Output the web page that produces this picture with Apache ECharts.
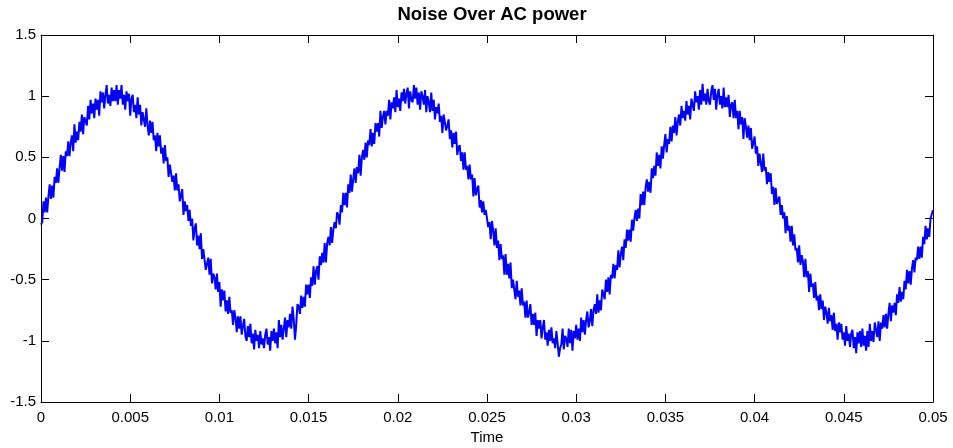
<!DOCTYPE html>
<html>
<head>
<meta charset="utf-8">
<script src="https://cdn.jsdelivr.net/npm/echarts@6/dist/echarts.min.js"></script>
<style>
html,body{margin:0;padding:0;background:#fff;}
#chart{width:953px;height:448px;}
</style>
</head>
<body>
<div id="chart"></div>
<script>
const tStart = 0;
const tEnd = 0.05;
const signal = [
-0.05,-0.03,0.14,0.05,0.17,0.05,0.18,0.28,0.16,0.27,0.17,0.34,0.29,0.41,0.29,0.41,0.52,0.39,0.51,0.38,0.55,0.51,0.63,0.51,0.62,0.68,0.55,0.77,0.62,0.71,
0.64,0.79,0.71,0.85,0.69,0.83,0.82,0.76,0.92,0.81,0.97,0.86,0.94,0.82,0.98,0.89,0.97,0.84,1.04,0.95,1.03,0.90,1.01,1.09,0.94,1.01,0.92,1.07,0.96,1.05,
0.96,1.09,0.93,1.05,0.98,1.09,0.93,1.01,0.89,1.04,0.96,1.02,0.84,0.98,1.01,0.87,0.93,0.82,0.99,0.85,0.93,0.76,0.87,0.87,0.75,0.90,0.76,0.68,0.80,0.70,
0.79,0.64,0.68,0.55,0.70,0.59,0.68,0.53,0.58,0.45,0.60,0.47,0.50,0.34,0.44,0.45,0.30,0.35,0.23,0.37,0.23,0.28,0.14,0.19,0.24,0.03,0.14,0.06,0.11,-0.02,
0.07,-0.06,0.00,-0.18,-0.08,-0.04,-0.22,-0.14,-0.25,-0.12,-0.33,-0.25,-0.24,-0.42,-0.37,-0.32,-0.46,-0.33,-0.53,-0.45,-0.48,-0.58,-0.45,-0.60,-0.52,-0.72,-0.58,-0.67,-0.59,-0.76,
-0.67,-0.78,-0.64,-0.77,-0.75,-0.87,-0.75,-0.81,-0.93,-0.80,-0.90,-0.80,-0.95,-0.88,-0.82,-0.96,-1.00,-0.88,-0.97,-0.86,-1.02,-0.94,-1.07,-0.91,-1.00,-0.95,-1.06,-0.92,-1.03,-0.98,
-1.06,-0.95,-0.90,-1.03,-0.97,-1.08,-0.92,-1.00,-0.90,-1.02,-0.93,-1.06,-0.83,-0.97,-0.87,-0.99,-0.90,-0.81,-0.97,-0.83,-0.89,-0.78,-0.90,-0.72,-0.82,-0.99,-0.87,-0.70,-0.72,-0.78,
-0.63,-0.73,-0.64,-0.72,-0.54,-0.62,-0.54,-0.65,-0.48,-0.55,-0.39,-0.54,-0.43,-0.39,-0.50,-0.31,-0.38,-0.28,-0.36,-0.20,-0.36,-0.20,-0.15,-0.22,-0.07,-0.20,-0.09,-0.03,-0.08,0.05,
0.03,-0.05,0.11,0.05,0.21,0.11,0.21,0.09,0.28,0.21,0.36,0.22,0.32,0.41,0.29,0.42,0.37,0.52,0.35,0.50,0.56,0.48,0.62,0.50,0.64,0.60,0.73,0.59,0.70,0.61,
0.78,0.71,0.78,0.67,0.88,0.74,0.83,0.88,0.77,0.88,0.84,0.97,0.81,0.95,0.90,0.99,0.87,1.05,0.91,0.98,0.88,1.03,0.96,1.06,0.94,1.02,1.07,0.90,1.04,0.97,
0.95,1.09,0.98,1.07,0.93,1.03,0.89,1.04,1.00,0.93,1.05,0.87,1.00,0.95,0.87,1.03,0.88,0.97,0.81,0.91,0.86,0.94,0.79,0.84,0.70,0.85,0.85,0.72,0.76,0.81,
0.65,0.72,0.58,0.70,0.61,0.71,0.52,0.58,0.60,0.47,0.54,0.40,0.54,0.40,0.43,0.32,0.44,0.32,0.36,0.18,0.33,0.19,0.24,0.27,0.09,0.15,0.05,0.14,0.03,0.07,
0.06,-0.07,-0.03,-0.17,-0.02,-0.10,-0.22,-0.08,-0.24,-0.18,-0.34,-0.21,-0.33,-0.30,-0.46,-0.29,-0.46,-0.37,-0.49,-0.36,-0.57,-0.50,-0.49,-0.66,-0.51,-0.64,-0.59,-0.71,-0.57,-0.71,
-0.68,-0.81,-0.67,-0.81,-0.77,-0.70,-0.87,-0.78,-0.87,-0.77,-0.96,-0.83,-0.90,-0.83,-0.98,-0.89,-0.83,-0.99,-0.93,-1.04,-0.91,-1.00,-0.89,-1.02,-0.98,-1.06,-0.92,-1.02,-1.13,-1.06,
-1.03,-0.90,-1.07,-0.96,-0.98,-1.05,-0.90,-1.02,-0.91,-1.08,-0.92,-0.98,-0.87,-0.99,-0.90,-1.00,-0.81,-0.93,-0.83,-0.95,-0.83,-0.76,-0.89,-0.84,-0.74,-0.88,-0.75,-0.70,-0.78,-0.62,
-0.77,-0.67,-0.75,-0.58,-0.62,-0.66,-0.50,-0.60,-0.48,-0.62,-0.46,-0.49,-0.37,-0.49,-0.38,-0.42,-0.26,-0.40,-0.29,-0.23,-0.34,-0.17,-0.24,-0.09,-0.18,-0.09,-0.19,-0.01,-0.10,0.00,
0.07,-0.02,0.08,0.00,0.20,0.11,0.22,0.11,0.25,0.32,0.22,0.30,0.21,0.41,0.33,0.43,0.35,0.54,0.43,0.52,0.41,0.59,0.49,0.60,0.69,0.54,0.65,0.61,0.75,0.63,
0.76,0.70,0.83,0.68,0.79,0.85,0.76,0.92,0.82,0.88,0.80,0.96,0.85,0.92,0.81,0.98,0.97,0.88,1.04,0.95,1.00,0.89,1.05,0.93,1.10,0.96,1.02,0.93,1.06,0.96,
0.93,1.04,1.09,0.97,1.06,0.89,1.01,1.06,0.93,1.00,0.90,1.07,0.91,0.99,0.91,1.01,0.83,0.93,0.95,0.82,0.97,0.82,0.88,0.73,0.88,0.77,0.83,0.65,0.82,0.75,
0.66,0.76,0.64,0.74,0.57,0.62,0.67,0.53,0.59,0.43,0.53,0.54,0.38,0.53,0.39,0.42,0.28,0.38,0.30,0.37,0.20,0.26,0.11,0.25,0.12,0.15,0.18,0.03,0.11,0.00,
0.05,-0.12,0.02,-0.10,-0.06,-0.19,-0.06,-0.22,-0.13,-0.26,-0.24,-0.36,-0.22,-0.38,-0.30,-0.35,-0.48,-0.33,-0.48,-0.43,-0.60,-0.45,-0.56,-0.53,-0.65,-0.52,-0.67,-0.63,-0.75,-0.62,
-0.74,-0.67,-0.83,-0.72,-0.77,-0.86,-0.73,-0.84,-0.79,-0.91,-0.77,-0.92,-0.86,-0.99,-0.85,-0.93,-0.86,-0.99,-0.93,-1.04,-0.88,-1.00,-0.94,-1.05,-0.94,-0.91,-1.06,-0.97,-1.10,-0.93,
-1.02,-0.92,-1.05,-0.90,-1.04,-0.96,-1.08,-0.92,-1.05,-0.86,-1.00,-0.92,-1.01,-0.85,-0.91,-0.97,-0.84,-1.00,-0.85,-0.90,-0.79,-0.89,-0.78,-0.90,-0.78,-0.69,-0.84,-0.71,-0.77,-0.69,
-0.79,-0.62,-0.69,-0.56,-0.68,-0.60,-0.66,-0.51,-0.58,-0.42,-0.53,-0.43,-0.54,-0.41,-0.34,-0.44,-0.32,-0.34,-0.23,-0.33,-0.23,-0.32,-0.15,-0.21,-0.06,-0.17,-0.08,-0.15,0.00,0.00,
0.07
];
const xTicks = { min: 0, max: 0.05, interval: 0.005 };
const yTicks = { min: -1.5, max: 1.5, interval: 0.5 };

const dt = (tEnd - tStart) / (signal.length - 1);
const seriesData = signal.map((v, i) => [tStart + i * dt, v]);

const FONT = "'Liberation Sans', Arial, sans-serif";
const axisCommon = {
  type: 'value',
  axisLine: { show: true, onZero: false, lineStyle: { color: '#000', width: 1 } },
  axisTick: { show: true, inside: true, length: 8, lineStyle: { color: '#000', width: 1 } },
  splitLine: { show: false },
  axisLabel: { color: '#000', fontSize: 15, fontFamily: FONT }
};

const chart = echarts.init(document.getElementById('chart'), null, { renderer: 'canvas' });
chart.setOption({
  animation: false,
  backgroundColor: '#fff',
  title: {
    text: 'Noise Over AC power',
    left: 487, top: 0, textAlign: 'center',
    textStyle: { fontSize: 18.5, fontWeight: 'bold', color: '#000', fontFamily: FONT }
  },
  grid: { left: 41, right: 20, top: 35, bottom: 46, containLabel: false, outerBoundsMode: 'none' },
  xAxis: [
    Object.assign({}, axisCommon, {
      position: 'bottom', min: xTicks.min, max: xTicks.max, interval: xTicks.interval,
      name: 'Time', nameLocation: 'middle', nameGap: 26,
      nameTextStyle: { color: '#000', fontSize: 15, fontFamily: FONT },
      axisLabel: Object.assign({}, axisCommon.axisLabel, { margin: 8, formatter: v => String(+v.toFixed(4)) })
    }),
    Object.assign({}, axisCommon, {
      position: 'top', min: xTicks.min, max: xTicks.max, interval: xTicks.interval,
      axisLabel: { show: false }
    })
  ],
  yAxis: [
    Object.assign({}, axisCommon, {
      position: 'left', min: yTicks.min, max: yTicks.max, interval: yTicks.interval,
      axisLabel: Object.assign({}, axisCommon.axisLabel, { margin: 5, formatter: v => String(+v.toFixed(2)) })
    }),
    Object.assign({}, axisCommon, {
      position: 'right', min: yTicks.min, max: yTicks.max, interval: yTicks.interval,
      axisLabel: { show: false }
    })
  ],
  series: [{
    type: 'line',
    xAxisIndex: 0, yAxisIndex: 0,
    data: seriesData,
    showSymbol: false,
    symbol: 'none',
    sampling: null,
    lineStyle: { color: '#0000ff', width: 2 },
    itemStyle: { color: '#0000ff' }
  }]
});
</script>
</body>
</html>
